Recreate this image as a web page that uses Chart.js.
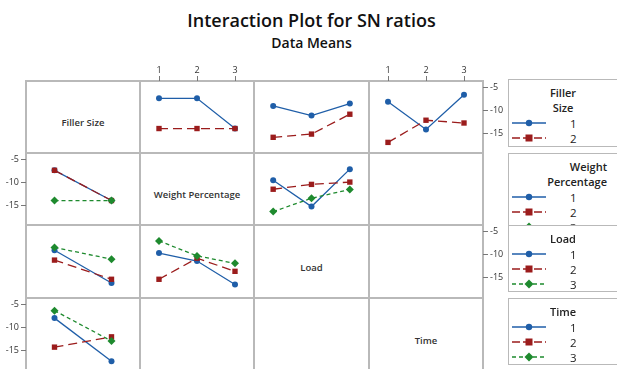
<!DOCTYPE html>
<html>
<head>
<meta charset="utf-8">
<script src="https://cdn.jsdelivr.net/npm/chart.js@4.4.0/dist/chart.umd.min.js"></script>
<style>
  html, body { margin: 0; padding: 0; background: #fff; }
  body { width: 617px; height: 369px; overflow: hidden; position: relative; font-family: "Open Sans", "Noto Sans", sans-serif; }
  canvas { position: absolute; }
  .abs { position: absolute; }
  .title { left: 3px; width: 617px; text-align: center; color: #111; }
  .gline { position: absolute; background: #b9b9b9; }
  .diag { position: absolute; text-align: center; font-size: 9.5px; font-weight: 600; color: #333; }
  .legend { position: absolute; left: 508px; width: 130px; background: #fff; border: 1.5px solid #b9b9b9; box-sizing: border-box; }
  .ltitle { position: absolute; font-size: 11px; font-weight: 600; color: #222; line-height: 15px; white-space: nowrap; }
  .lrow { position: absolute; left: 3px; height: 15px; }
  .lrow svg { position: absolute; left: 0; top: 2px; }
  .lrow span { position: absolute; left: 58px; font-size: 11.5px; color: #222; line-height: 15px; }
</style>
</head>
<body>
<div class="abs title" style="top:8px; font-size:18px; font-weight:600; line-height:24px;">Interaction Plot for SN ratios</div>
<div class="abs title" style="top:33px; font-size:14px; font-weight:600; line-height:19px;">Data Means</div>
<div id="plot"></div>
<script>
// factors and levels
const factors = ["Filler Size", "Weight Percentage", "Load", "Time"];
const levels = [[1, 2], [1, 2, 3], [1, 2, 3], [1, 2, 3]];

// mean SN ratios, one array per level of the line factor
const fsByWp = [[-7.45, -7.45, -14.0], [-14.0, -14.0, -14.0]];
const fsByLoad = [[-9.1, -11.2, -8.6], [-15.9, -15.2, -10.9]];
const fsByTime = [[-8.2, -14.2, -6.7], [-17.0, -12.2, -12.8]];
const wpByFs = [[-7.45, -14.0], [-7.45, -14.0], [-14.0, -14.0]];
const wpByLoad = [[-9.6, -15.3, -7.2], [-11.55, -10.5, -10.0], [-16.4, -13.5, -11.6]];
const loadByFs = [[-9.1, -16.1], [-11.2, -15.3], [-8.5, -11.0]];
const loadByWp = [[-9.7, -11.4, -16.4], [-15.3, -10.8, -13.6], [-7.1, -10.3, -11.9]];
const timeByFs = [[-8.0, -17.2], [-14.2, -12.0], [-6.4, -12.9]];

const yTicks = [-5, -10, -15];

const colors = ["#1f5ea8", "#9b1c1c", "#1e8a2e"];
const dashes = [[], [9, 5], [4, 3]];
const shapes = ["circle", "rect", "rectRot"];
const radii = [3, 3.8, 4];

// grid geometry
const colX = [26, 140, 254, 369, 483];
const rowY = [81, 153, 225, 298, 371];
const M = 30;

const plot = document.getElementById("plot");

// grid lines
colX.forEach((x) => {
    const d = document.createElement("div");
    d.className = "gline";
    d.style.cssText = `left:${x - 1}px;top:${rowY[0] - 1}px;width:1.5px;height:${rowY[4] - rowY[0] + 2}px`;
    plot.appendChild(d);
});
rowY.forEach((y) => {
    const d = document.createElement("div");
    d.className = "gline";
    d.style.cssText = `left:${colX[0] - 1}px;top:${y - 1}px;width:${colX[4] - colX[0] + 2}px;height:1.5px`;
    plot.appendChild(d);
});

// diagonal labels
factors.forEach((name, i) => {
    const d = document.createElement("div");
    d.className = "diag";
    const cy = (rowY[i] + rowY[i + 1]) / 2 + 6;
    d.style.cssText = `left:${colX[i]}px;width:${colX[i + 1] - colX[i]}px;top:${cy - 8}px;line-height:16px`;
    d.textContent = name;
    plot.appendChild(d);
});

const panels = [
    { row: 0, col: 1, data: fsByWp, top: true },
    { row: 0, col: 2, data: fsByLoad },
    { row: 0, col: 3, data: fsByTime, top: true, right: true },
    { row: 1, col: 0, data: wpByFs, left: true },
    { row: 1, col: 2, data: wpByLoad },
    { row: 2, col: 0, data: loadByFs },
    { row: 2, col: 1, data: loadByWp },
    { row: 2, col: 3, data: [], right: true },
    { row: 3, col: 0, data: timeByFs, left: true },
];

function makePanel(p) {
    const x0 = colX[p.col], y0 = rowY[p.row];
    const w = colX[p.col + 1] - x0, h = rowY[p.row + 1] - y0;
    const canvas = document.createElement("canvas");
    canvas.width = w + 2 * M;
    canvas.height = h + 2 * M;
    canvas.style.left = (x0 - M) + "px";
    canvas.style.top = (y0 - M) + "px";
    plot.appendChild(canvas);

    const xLevels = levels[p.col];
    const datasets = p.data.map((vals, i) => ({
        label: factors[p.row] + " " + (i + 1),
        data: vals.map((v, k) => ({ x: xLevels[k], y: v })),
        borderColor: colors[i],
        backgroundColor: colors[i],
        borderWidth: 1.3,
        borderDash: dashes[i],
        pointStyle: shapes[i],
        pointRadius: radii[i],
        pointBorderWidth: 0,
        order: 3 - i,
        clip: false,
    }));

    const tickFont = { family: "'Open Sans', sans-serif", size: 9 };
    const showY = !!(p.left || p.right);

    new Chart(canvas.getContext("2d"), {
        type: "line",
        data: { datasets: datasets },
        options: {
            responsive: false,
            animation: false,
            events: [],
            layout: {
                autoPadding: false,
                padding: {
                    left: p.left ? 0 : M,
                    right: p.right ? 0 : M,
                    top: p.top ? 0 : M,
                    bottom: M,
                },
            },
            plugins: { legend: { display: false }, tooltip: { enabled: false } },
            scales: {
                x: {
                    type: "linear",
                    display: !!p.top,
                    position: "top",
                    min: 0.5,
                    max: xLevels.length + 0.5,
                    afterBuildTicks: (s) => { s.ticks = xLevels.map((v) => ({ value: v })); },
                    afterFit: (s) => { s.height = p.top ? M : 0; },
                    grid: { drawOnChartArea: false, tickLength: 5, color: "#777" },
                    border: { display: false },
                    ticks: { font: tickFont, color: "#333", padding: 0 },
                },
                y: {
                    type: "linear",
                    display: showY,
                    position: p.right ? "right" : "left",
                    min: -19.3,
                    max: -3.7,
                    afterBuildTicks: (s) => { s.ticks = yTicks.map((v) => ({ value: v })); },
                    afterFit: (s) => { s.width = showY ? M : 0; },
                    grid: { drawOnChartArea: false, tickLength: 5, color: "#777" },
                    border: { display: false },
                    ticks: { font: tickFont, color: "#333", padding: 2 },
                },
            },
        },
    });
}

panels.forEach(makePanel);

// legends
const legendBoxes = [
    { top: 79, height: 68, title: ["Filler", "Size"], align: "center", n: 2 },
    { top: 153, height: 80, title: ["Weight", "Percentage"], align: "right", n: 3 },
    { top: 225, height: 67, title: ["Load"], align: "center", n: 3 },
    { top: 298, height: 67, title: ["Time"], align: "center", n: 3 },
];

function sampleSvg(i) {
    const dash = dashes[i].length ? `stroke-dasharray="${i === 1 ? "8 3" : "4 3"}"` : "";
    let mark;
    if (i === 0) mark = `<circle cx="17" cy="5" r="3.2" fill="${colors[i]}"/>`;
    else if (i === 1) mark = `<rect x="13.5" y="1.5" width="7" height="7" fill="${colors[i]}"/>`;
    else mark = `<polygon points="17,0.5 21.5,5 17,9.5 12.5,5" fill="${colors[i]}"/>`;
    return `<svg width="34" height="10"><line x1="0" y1="5" x2="34" y2="5" stroke="${colors[i]}" stroke-width="1.3" ${dash}/>${mark}</svg>`;
}

legendBoxes.forEach((lb) => {
    const box = document.createElement("div");
    box.className = "legend";
    box.style.top = lb.top + "px";
    box.style.height = lb.height + "px";
    let y = 5;
    lb.title.forEach((t) => {
        const d = document.createElement("div");
        d.className = "ltitle";
        if (lb.align === "right") {
            d.style.right = (130 - 100) + "px";
        } else {
            d.style.left = "0px";
            d.style.width = "108px";
            d.style.textAlign = "center";
        }
        d.style.top = y + "px";
        d.textContent = t;
        box.appendChild(d);
        y += 15;
    });
    for (let i = 0; i < lb.n; i++) {
        const r = document.createElement("div");
        r.className = "lrow";
        r.style.top = (y + 1) + "px";
        r.innerHTML = sampleSvg(i) + `<span>${i + 1}</span>`;
        box.appendChild(r);
        y += 15;
    }
    document.body.appendChild(box);
});
</script>
</body>
</html>
